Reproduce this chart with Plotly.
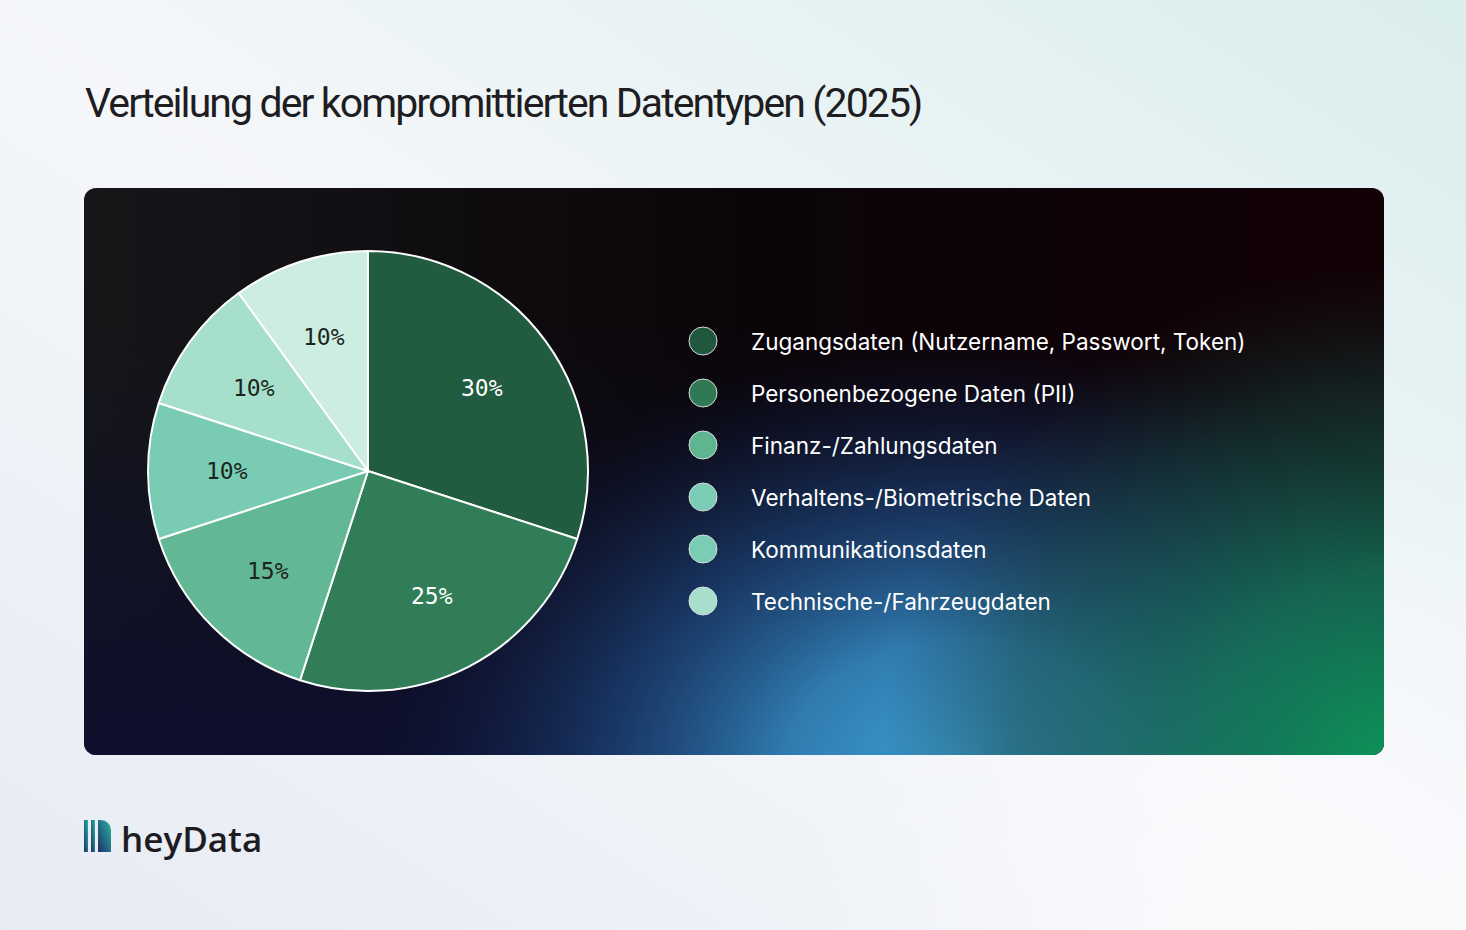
import base64
import math
import plotly.graph_objects as go

# ---------------- data ----------------
categories = [
    "Zugangsdaten (Nutzername, Passwort, Token)",
    "Personenbezogene Daten (PII)",
    "Finanz-/Zahlungsdaten",
    "Verhaltens-/Biometrische Daten",
    "Kommunikationsdaten",
    "Technische-/Fahrzeugdaten",
]
shares = [30, 25, 15, 10, 10, 10]
slice_colors = ["#215c40", "#307d57", "#62b894", "#79ccb3", "#a6dfcc", "#ceede1"]
legend_colors = ["#21573e", "#2f7a55", "#5eb58f", "#7acdb4", "#7acdb4", "#a8dfcc"]
label_colors = ["#ffffff", "#ffffff", "#1c2420", "#1c2420", "#1c2420", "#1c2420"]
title_text = "Verteilung der kompromittierten Datentypen (2025)"
brand_text = "heyData"

W, H = 1466, 930


def px(x):
    return x / W


def py(y):
    return 1 - y / H


# ---------------- background (decoration) ----------------
svg = f"""<svg xmlns='http://www.w3.org/2000/svg' width='{W}' height='{H}' viewBox='0 0 {W} {H}'>
<defs>
 <linearGradient id='bg' x1='0' y1='1' x2='1' y2='0'>
  <stop offset='0' stop-color='#e7ebf3'/>
  <stop offset='0.5' stop-color='#f5f7fa'/>
  <stop offset='1' stop-color='#daeeed'/>
 </linearGradient>
 <radialGradient id='bgw' cx='1300' cy='930' r='500' gradientUnits='userSpaceOnUse'>
  <stop offset='0' stop-color='#fbfbfd' stop-opacity='1'/>
  <stop offset='1' stop-color='#fbfbfd' stop-opacity='0'/>
 </radialGradient>
 <linearGradient id='base' x1='0' y1='0' x2='1' y2='0'>
  <stop offset='0' stop-color='#161619'/>
  <stop offset='0.5' stop-color='#0a0509'/>
  <stop offset='1' stop-color='#120005'/>
 </linearGradient>
 <linearGradient id='navy' x1='0' y1='0' x2='0' y2='1'>
  <stop offset='0.25' stop-color='#0d0f2e' stop-opacity='0'/>
  <stop offset='1' stop-color='#0d0f2e' stop-opacity='0.95'/>
 </linearGradient>
 <radialGradient id='blue' cx='960' cy='770' r='580' gradientUnits='userSpaceOnUse' gradientTransform='translate(960 770) scale(1 0.74) translate(-960 -770)'>
  <stop offset='0' stop-color='#3e9fd5' stop-opacity='1'/>
  <stop offset='0.3' stop-color='#3488bf' stop-opacity='0.9'/>
  <stop offset='0.62' stop-color='#1f4d86' stop-opacity='0.6'/>
  <stop offset='1' stop-color='#12204a' stop-opacity='0'/>
 </radialGradient>
 <radialGradient id='green' cx='1400' cy='780' r='520' gradientUnits='userSpaceOnUse'>
  <stop offset='0' stop-color='#0c9a58' stop-opacity='1'/>
  <stop offset='0.4' stop-color='#157555' stop-opacity='0.8'/>
  <stop offset='0.75' stop-color='#17483c' stop-opacity='0.45'/>
  <stop offset='1' stop-color='#162e2a' stop-opacity='0'/>
 </radialGradient>
 <linearGradient id='logo' x1='0' y1='1' x2='1' y2='0'>
  <stop offset='0' stop-color='#1c2f6e'/>
  <stop offset='1' stop-color='#2bb39e'/>
 </linearGradient>
 <clipPath id='panel'><rect x='84' y='188' width='1300' height='567' rx='12' ry='12'/></clipPath>
</defs>
<rect x='0' y='0' width='{W}' height='{H}' fill='url(#bg)'/>
<rect x='0' y='0' width='{W}' height='{H}' fill='url(#bgw)'/>
<g clip-path='url(#panel)'>
 <rect x='84' y='188' width='1300' height='567' fill='url(#base)'/>
 <rect x='84' y='188' width='1300' height='567' fill='url(#navy)'/>
 <rect x='84' y='188' width='1300' height='567' fill='url(#blue)'/>
 <rect x='84' y='188' width='1300' height='567' fill='url(#green)'/>
</g>
<rect x='84' y='820' width='4' height='32' fill='url(#logo)'/>
<rect x='91' y='820' width='4' height='32' fill='url(#logo)'/>
<path d='M98 820 H101 A10 10 0 0 1 111 830 V852 H98 Z' fill='url(#logo)'/>
</svg>"""
bg_uri = "data:image/svg+xml;base64," + base64.b64encode(svg.encode()).decode()

# ---------------- figure ----------------
PIE_CX, PIE_CY, PIE_R = 368, 471, 220

fig = go.Figure()
fig.add_trace(
    go.Pie(
        labels=categories,
        values=shares,
        sort=False,
        direction="clockwise",
        rotation=0,
        marker=dict(colors=slice_colors, line=dict(color="#ffffff", width=2)),
        textinfo="none",
        hoverinfo="label+percent",
        domain=dict(x=[px(PIE_CX - PIE_R), px(PIE_CX + PIE_R)],
                    y=[py(PIE_CY + PIE_R), py(PIE_CY - PIE_R)]),
        showlegend=False,
    )
)

shapes = []
annotations = []

# percentage labels placed at 0.64 of the radius, mid-angle of each slice
total = sum(shares)
cum = 0
for v, c in zip(shares, label_colors):
    ang = 2 * math.pi * (cum + v / 2) / total
    cum += v
    lx = PIE_CX + 0.64 * PIE_R * math.sin(ang)
    ly = PIE_CY - 0.64 * PIE_R * math.cos(ang)
    annotations.append(
        dict(
            text=f"{v}%", xref="paper", yref="paper", x=px(lx), y=py(ly),
            xanchor="center", yanchor="middle", showarrow=False,
            font=dict(family="DejaVu Sans Mono, monospace", size=23, color=c),
        )
    )

for i, (name, col) in enumerate(zip(categories, legend_colors)):
    cy = 341 + 52 * i
    shapes.append(
        dict(
            type="circle", xref="paper", yref="paper",
            x0=px(689), x1=px(717), y0=py(cy + 14), y1=py(cy - 14),
            fillcolor=col, line=dict(color="#d6dcd9", width=1),
        )
    )
    annotations.append(
        dict(
            text=name, xref="paper", yref="paper", x=px(749), y=py(cy),
            xanchor="left", yanchor="middle", showarrow=False,
            font=dict(family="Inter, Roboto, sans-serif", size=22.5, color="#ffffff"),
        )
    )

annotations.append(
    dict(
        text=f"<span style='letter-spacing:-1.9px'>{title_text}</span>",
        xref="paper", yref="paper", x=px(83), y=py(103),
        xanchor="left", yanchor="middle", showarrow=False,
        font=dict(family="Roboto, sans-serif", size=41, color="#1d1d22"),
    )
)
annotations.append(
    dict(
        text=brand_text, xref="paper", yref="paper", x=px(119), y=py(838),
        xanchor="left", yanchor="middle", showarrow=False,
        font=dict(family="Open Sans, sans-serif", size=35, color="#1c1c22", weight=600),
    )
)

fig.update_layout(
    width=W, height=H,
    margin=dict(l=0, r=0, t=0, b=0),
    paper_bgcolor="#f4f6f9",
    plot_bgcolor="rgba(0,0,0,0)",
    images=[dict(source=bg_uri, xref="paper", yref="paper", x=0, y=1, sizex=1, sizey=1,
                 xanchor="left", yanchor="top", sizing="stretch", layer="below")],
    shapes=shapes,
    annotations=annotations,
    showlegend=False,
)

fig.write_html(
    "out.html",
    config={"displayModeBar": False},
    post_script="document.body.style.margin='0';document.body.style.overflow='hidden';",
)
